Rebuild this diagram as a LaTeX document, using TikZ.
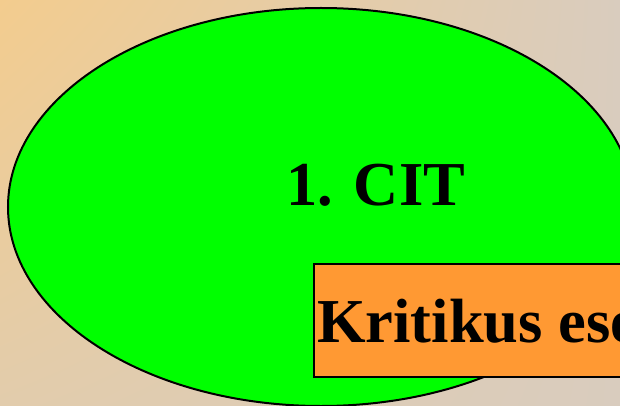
\documentclass[tikz,border=0pt]{standalone}
\usepackage{fontspec}
\setmainfont{Liberation Serif}
\usetikzlibrary{shadings,shapes.geometric}
\definecolor{bgUL}{RGB}{243,204,142}
\definecolor{bgLL}{RGB}{226,204,172}
\definecolor{bgUR}{RGB}{217,204,190}
\definecolor{bgLR}{RGB}{217,204,190}
\definecolor{ellgreen}{RGB}{0,255,0}
\definecolor{boxorange}{RGB}{255,153,51}
\tikzset{
  bigtext/.style={font=\bfseries\fontsize{62.5}{70}\selectfont, inner sep=0pt, text=black},
  outline/.style={draw=black, line width=2pt}
}
\begin{document}
\begin{tikzpicture}[x=1pt,y=-1pt]
\useasboundingbox (0,0) rectangle (620,406);
\clip (0,0) rectangle (620,406);
\shade[upper left=bgUL, lower left=bgLL, upper right=bgUR, lower right=bgLR] (0,0) rectangle (620,406);
\node[ellipse, outline, fill=ellgreen, minimum width=626pt, minimum height=398pt, inner sep=0pt] (ell) at (321,207) {};
\node[bigtext, anchor=base west] (cit) at (286,205) {1. CIT};
\node[outline, fill=boxorange, anchor=north west, minimum width=400pt, minimum height=113pt, inner sep=0pt] (box) at (313,263) {};
\node[bigtext, anchor=base west] (krit) at (317,342) {Kritikus esemény};
\end{tikzpicture}
\end{document}
